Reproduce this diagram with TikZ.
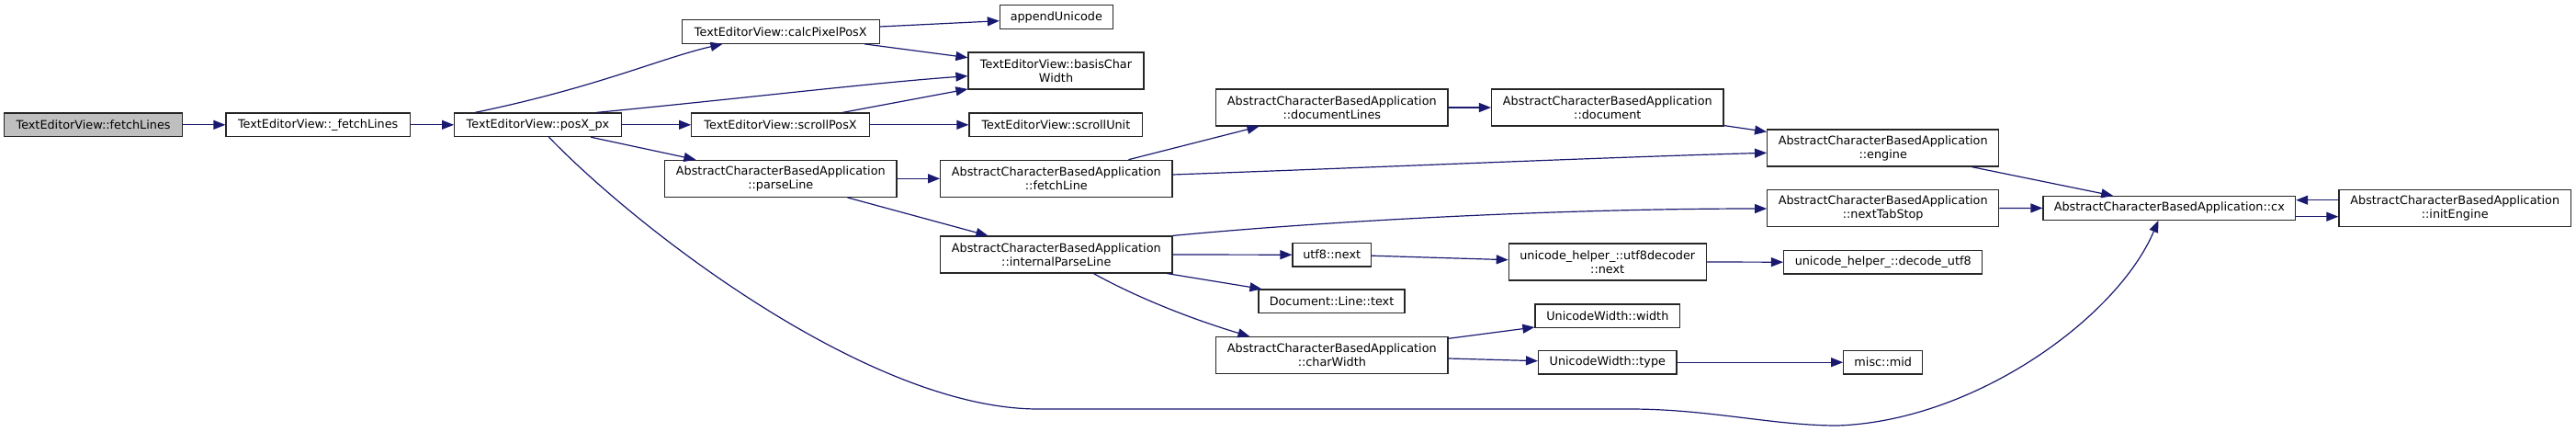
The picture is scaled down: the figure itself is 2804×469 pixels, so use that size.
\documentclass[tikz,border=0pt]{standalone}
\usepackage{fontspec}
\setmainfont{DejaVu Sans}
\usetikzlibrary{arrows.meta,calc}
\definecolor{edgeblue}{HTML}{191970}
\definecolor{fillgray}{HTML}{BFBFBF}
\begin{document}
\begin{tikzpicture}[x=1pt,y=-1pt,
  fn/.style={draw=black!85,line width=1.2pt,fill=white,inner sep=0pt,align=center,
    font=\fontsize{12.8}{15}\selectfont,minimum height=25.6pt},
  fntwo/.style={fn,minimum height=40pt},
  call/.style={draw=edgeblue,line width=1.2pt,-{Triangle[length=13pt,width=10pt]},color=edgeblue}]
\useasboundingbox (0,0) rectangle (2804,469);
% nodes
\node[fn,fill=fillgray,minimum width=194.2pt] (fl) at (101.6,135.8) {TextEditorView::fetchLines};
\node[fn,minimum width=200.4pt] (ufl) at (346.2,135.8) {TextEditorView::\_fetchLines};
\node[fn,minimum width=181.7pt] (posx) at (585.5,135.8) {TextEditorView::posX\_px};
\node[fn,minimum width=214.7pt] (calc) at (849.8,34.5) {TextEditorView::calcPixelPosX};
\node[fn,minimum width=122.8pt] (app) at (1149.8,18.5) {appendUnicode};
\node[fntwo,minimum width=191pt] (basis) at (1149.5,77) {TextEditorView::basisChar\\Width};
\node[fn,minimum width=193.7pt] (spx) at (849.6,135.8) {TextEditorView::scrollPosX};
\node[fn,minimum width=188.8pt] (sunit) at (1149.4,135.8) {TextEditorView::scrollUnit};
\node[fntwo,minimum width=252.2pt] (parse) at (849.8,194.3) {AbstractCharacterBasedApplication\\::parseLine};
\node[fntwo,minimum width=252.2pt] (fetch) at (1149.8,194.3) {AbstractCharacterBasedApplication\\::fetchLine};
\node[fntwo,minimum width=252.2pt] (ipl) at (1149.8,277) {AbstractCharacterBasedApplication\\::internalParseLine};
\node[fntwo,minimum width=252.5pt] (dlines) at (1449.8,117) {AbstractCharacterBasedApplication\\::documentLines};
\node[fntwo,minimum width=252.5pt] (doc) at (1749.8,117) {AbstractCharacterBasedApplication\\::document};
\node[fntwo,minimum width=252.1pt] (eng) at (2049.7,161) {AbstractCharacterBasedApplication\\::engine};
\node[fntwo,minimum width=252.1pt] (nts) at (2049.7,226.5) {AbstractCharacterBasedApplication\\::nextTabStop};
\node[fn,minimum width=85.3pt] (u8n) at (1449.7,277.2) {utf8::next};
\node[fntwo,minimum width=214.8pt] (u8d) at (1749.7,285) {unicode\_helper\_::utf8decoder\\::next};
\node[fn,minimum width=216.3pt] (dec) at (2049.7,285.2) {unicode\_helper\_::decode\_utf8};
\node[fn,minimum width=159pt] (ltext) at (1449.5,327.8) {Document::Line::text};
\node[fn,minimum width=157.7pt] (uww) at (1749.8,343.7) {UnicodeWidth::width};
\node[fntwo,minimum width=252.5pt] (cw) at (1449.8,386.7) {AbstractCharacterBasedApplication\\::charWidth};
\node[fn,minimum width=150.5pt] (uwt) at (1749.8,394.2) {UnicodeWidth::type};
\node[fn,minimum width=85.9pt] (mid) at (2049.7,394.2) {misc::mid};
\node[fn,minimum width=274.6pt] (cx) at (2361.3,226.4) {AbstractCharacterBasedApplication::cx};
\node[fntwo,minimum width=252.6pt] (init) at (2672.2,226.5) {AbstractCharacterBasedApplication\\::initEngine};
% edges
\draw[call] (fl.east) -- (ufl.west);
\draw[call] (ufl.east) -- (posx.west);
\draw[call] ($(posx.north west)+(23,0)$) .. controls (650,95) and (720,63) .. ($(calc.south west)+(44.6,0)$);
\draw[call] ($(posx.north west)+(155,0)$) .. controls (800,108) and (950,90) .. ($(basis.west)+(0,5.7)$);
\draw[call] (posx.east) -- (spx.west);
\draw[call] ($(posx.south west)+(149,0)$) -- ($(parse.north west)+(34.3,0)$);
\draw[call] ($(posx.south west)+(103.4,0)$) .. controls (700,255) and (950,445) .. (1130,445)
  -- (1774,445) .. controls (1860,445) and (1930,463) .. (2000,463)
  .. controls (2150,458) and (2305,345) .. ($(cx.south west)+(126,0)$);
\draw[call] ($(calc.east)+(0,-5.5)$) -- ($(app.west)+(0,4.2)$);
\draw[call] ($(calc.south east)+(-16.6,0)$) -- ($(basis.west)+(0,-14.3)$);
\draw[call] ($(spx.north east)+(-29.9,0)$) -- ($(basis.south west)+(0,-0.7)$);
\draw[call] (spx.east) -- (sunit.west);
\draw[call] (parse.east) -- (fetch.west);
\draw[call] ($(parse.south west)+(199.3,0)$) -- ($(ipl.north west)+(52.3,0)$);
\draw[call] ($(fetch.north west)+(205.3,0)$) -- ($(dlines.south west)+(47.5,0)$);
\draw[call] ($(fetch.east)+(0,-4.3)$) .. controls (1500,182) and (1750,171) .. ($(eng.west)+(0,5.3)$);
\draw[call] (dlines.east) -- (doc.west);
\draw[call] ($(doc.south east)+(0,-1)$) -- ($(eng.north west)+(0,3)$);
\draw[call] ($(eng.south west)+(223.2,0)$) -- ($(cx.north west)+(76.8,0)$);
\draw[call] (ipl.north east) .. controls (1450,240) and (1700,227) .. ($(nts.west)+(0,0.5)$);
\draw[call] (ipl.east) -- (u8n.west);
\draw[call] ($(ipl.south east)+(-6,0)$) -- ($(ltext.north west)+(4,0)$);
\draw[call] ($(ipl.south west)+(167.3,0)$) .. controls (1240,325) and (1300,348) .. ($(cw.north west)+(37.5,0)$);
\draw[call] ($(u8n.east)+(0,1)$) -- ($(u8d.west)+(0,-2.3)$);
\draw[call] (u8d.east) -- (dec.west);
\draw[call] ($(cw.east)+(0,-18.4)$) -- ($(uww.west)+(0,12.3)$);
\draw[call] ($(cw.east)+(0,3.3)$) -- ($(uwt.west)+(0,-1.5)$);
\draw[call] (uwt.east) -- (mid.west);
\draw[call] (nts.east) -- (cx.west);
\draw[call] ($(cx.east)+(0,9.3)$) -- ($(init.west)+(0,9.2)$);
\draw[call] ($(init.west)+(0,-8.8)$) -- ($(cx.east)+(0,-8.7)$);
\end{tikzpicture}
\end{document}
